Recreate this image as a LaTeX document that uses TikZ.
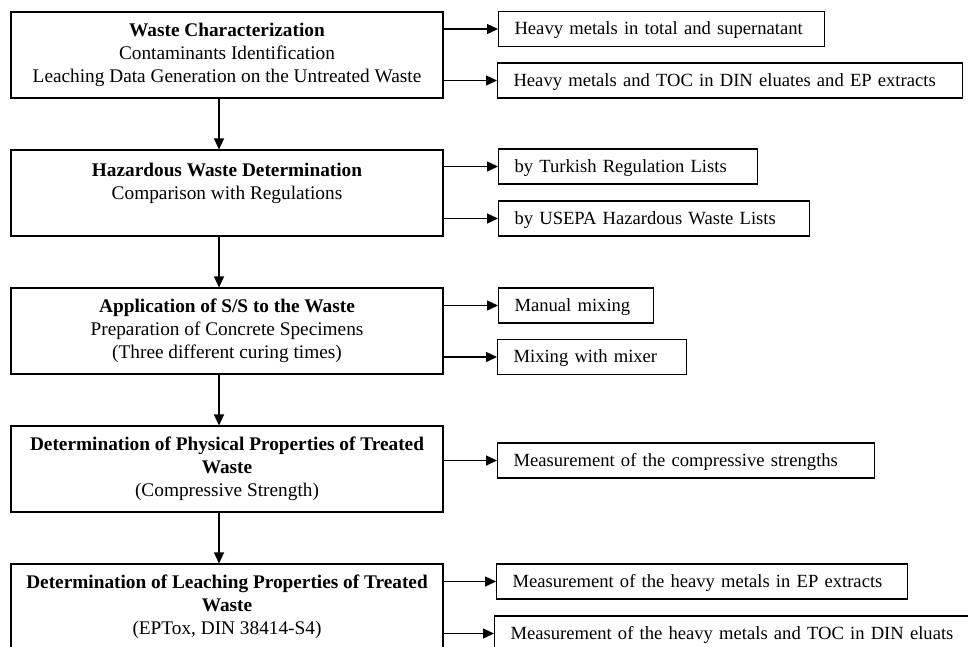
\documentclass[tikz,border=0pt]{standalone}
\usepackage{fontspec}
\setmainfont{Liberation Serif}
\usetikzlibrary{arrows.meta}

\tikzset{
  mainbox/.style={draw, line width=1.1pt, rectangle, minimum width=432pt, minimum height=86pt, align=center, inner sep=0pt, font=\fontsize{19.3}{23}\selectfont},
  sidebox/.style={draw, line width=1.1pt, rectangle, anchor=west, minimum height=35pt, inner xsep=16pt, inner ysep=0pt, align=left, text height=14pt, text depth=3pt, font=\fontsize{18.6}{23}\selectfont},
  link/.style={line width=1.3pt, -{Triangle[length=11pt, width=10pt]}}
}

\begin{document}
\begin{tikzpicture}[x=1pt, y=-1pt, node distance=138pt]
            \clip (0,0) rectangle (968,646);
            % main steps
            \node [mainbox] (wc) at (227,55) {\textbf{Waste Characterization}\\Contaminants Identification\\Leaching Data Generation on the Untreated Waste};
            \node [mainbox, below of=wc] (hw) {\textbf{Hazardous Waste Determination}\\Comparison with Regulations\\~};
            \node [mainbox, below of=hw] (ss) {\textbf{Application of S/S to the Waste}\\Preparation of Concrete Specimens\\(Three different curing times)};
            \node [mainbox, below of=ss] (pp) {\textbf{Determination of Physical Properties of Treated}\\\textbf{Waste}\\(Compressive Strength)};
            \node [mainbox, below of=pp] (lp) {\textbf{Determination of Leaching Properties of Treated}\\\textbf{Waste}\\(EPTox, DIN 38414-S4)};

            % side boxes
            \node [sidebox, text width=294pt] (wc1) at (498,29) {Heavy metals in total and supernatant};
            \node [sidebox, text width=433pt] (wc2) at (497,80.5) {Heavy metals and TOC in DIN eluates and EP extracts};
            \node [sidebox, text width=227pt] (hw1) at (498,166.5) {by Turkish Regulation Lists};
            \node [sidebox, text width=279pt] (hw2) at (498,218.5) {by USEPA Hazardous Waste Lists};
            \node [sidebox, text width=123pt] (ss1) at (498,305.5) {Manual mixing};
            \node [sidebox, text width=157pt] (ss2) at (497,357) {Mixing with mixer};
            \node [sidebox, text width=345pt] (pp1) at (497,460.5) {Measurement of the compressive strengths};
            \node [sidebox, text width=379pt] (lp1) at (496,581.5) {Measurement of the heavy metals in EP extracts};
            \node [sidebox, text width=448pt] (lp2) at (494,633.5) {Measurement of the heavy metals and TOC in DIN eluats};

            % flow down
            \foreach \a/\b in {wc/hw, hw/ss, ss/pp, pp/lp}
              \draw [link] ([xshift=-8pt]\a.south) -- ([xshift=-8pt]\b.north);

            % branches
            \foreach \a/\b in {wc/wc1, wc/wc2, hw/hw1, hw/hw2, ss/ss1, ss/ss2, pp/pp1, lp/lp1, lp/lp2}
              \draw [link] (\a.east |- \b.west) -- (\b.west);
        \end{tikzpicture}
\end{document}
